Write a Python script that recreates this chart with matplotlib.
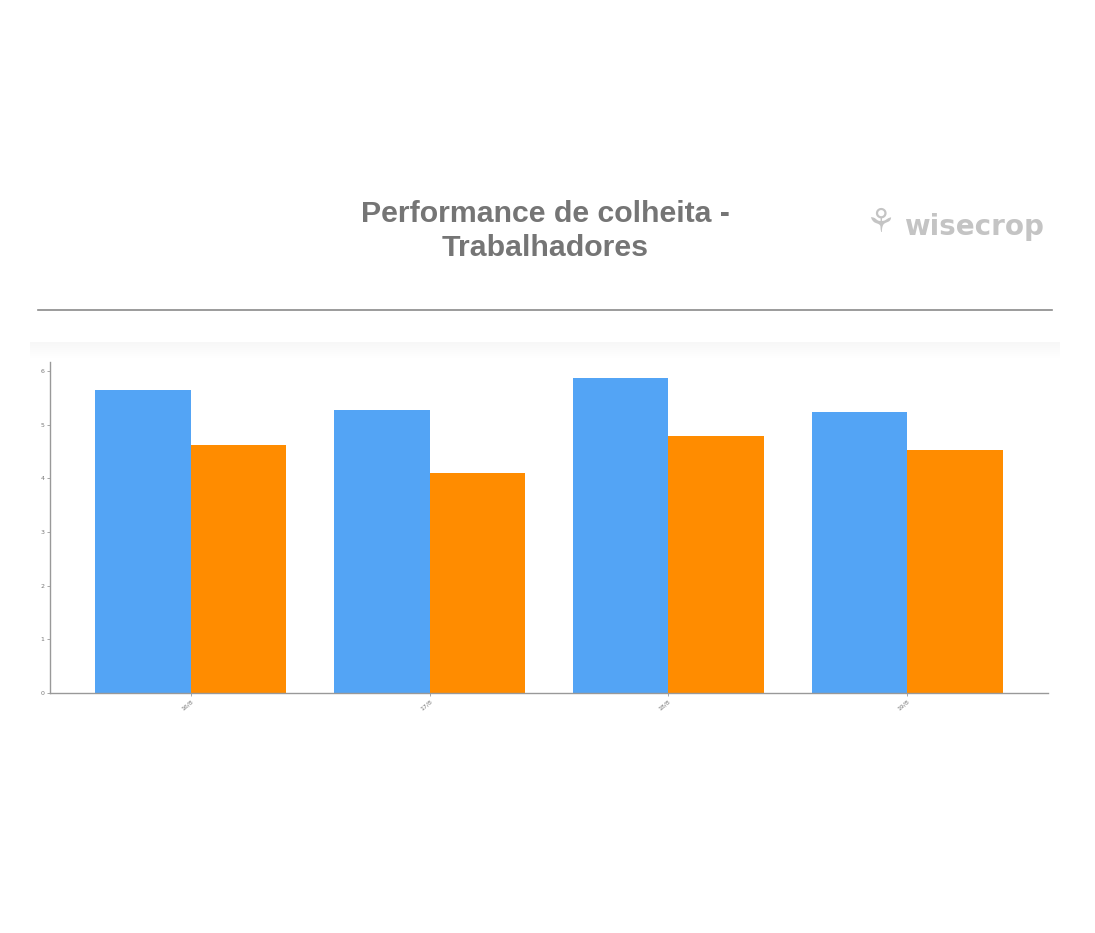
import matplotlib.pyplot as plt
import matplotlib.patches as mpatches
import numpy as np

# data
days = ['16/8', '17/8', '18/8', '19/8']
serie_a = [5.65, 5.28, 5.88, 5.24]
serie_b = [4.63, 4.09, 4.79, 4.53]

cor_a = '#53a4f5'
cor_b = '#ff8c00'
cinza = '#757575'

fig = plt.figure(figsize=(10.95, 9.33), dpi=100)
fig.patch.set_facecolor('white')

# title + logo
fig.text(0.498, 0.7524, 'Performance de colheita -\nTrabalhadores', ha='center', va='center',
         fontsize=21.8, fontweight='bold', color=cinza, family='Liberation Sans',
         linespacing=1.3)
fig.text(0.889, 0.757, 'wisecrop', ha='center', va='center', fontsize=20,
         fontweight='bold', color='#c4c4c4', family='DejaVu Sans')
fig.text(0.8035, 0.762, '\u2698', ha='center', va='center', fontsize=24,
         color='#c4c4c4', family='DejaVu Sans')

# separator line + faint shadow band
fig.add_artist(plt.Line2D([38 / 1095, 1052 / 1095], [1 - 310 / 933, 1 - 310 / 933],
                          color='#8a8a8a', lw=1.2, transform=fig.transFigure))
for i in range(8):
    fig.add_artist(mpatches.Rectangle((30 / 1095, 1 - (358 - i * 2) / 933), 1030 / 1095,
                                      (16 - i * 2) / 933, transform=fig.transFigure,
                                      color='#f2f2f2', alpha=0.07, lw=0))

ax = fig.add_axes([50 / 1095, 1 - 692.7 / 933, 998 / 1095, (692.7 - 362) / 933])
x = np.arange(len(days))
w = 0.40
ax.bar(x - w / 2, serie_a, w, color=cor_a)
ax.bar(x + w / 2, serie_b, w, color=cor_b)

ax.set_xlim(-0.59, 3.59)
ax.set_ylim(0, 6.17)
ax.set_yticks(range(7))
ax.set_xticks(x)
ax.set_xticklabels(days, rotation=40, ha='right', rotation_mode='anchor')
ax.tick_params(labelsize=4.5, labelcolor='#777777', color='#999999', length=2.5,
               width=0.6, pad=1.5)
for s in ['top', 'right']:
    ax.spines[s].set_visible(False)
for s in ['left', 'bottom']:
    ax.spines[s].set_color('#999999')
    ax.spines[s].set_linewidth(1)

fig.savefig('out.png', dpi=100)
